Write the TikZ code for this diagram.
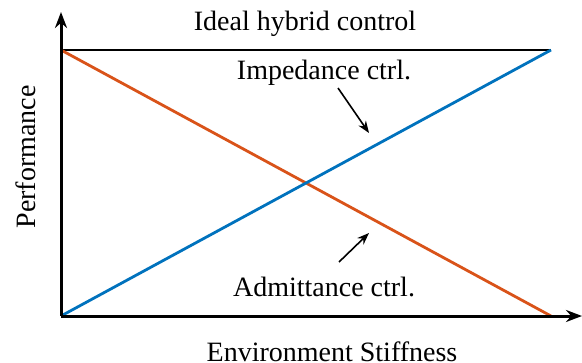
\documentclass[tikz,border=0pt]{standalone}
\usepackage{fontspec}
\setmainfont{Liberation Serif}
\usetikzlibrary{arrows.meta}
\definecolor{ctrlorange}{RGB}{217,83,25}
\definecolor{ctrlblue}{RGB}{0,114,189}
\begin{document}
\begin{tikzpicture}[x=0.5pt, y=-0.5pt, axis/.style = {line width=1.5pt, -{Stealth[length=8pt,width=6pt]}}, curve/.style = {line width=1.4pt}, note/.style = {line width=0.8pt, -{Stealth[length=6pt,width=4.5pt]}}, lbl/.style = {font=\fontsize{14}{16}\selectfont, inner sep=0pt}]
        \useasboundingbox (0,0) rectangle (582,363);
        \coordinate (o) at (61,316);
        \coordinate (ytop) at (61,12);
        \coordinate (xend) at (582,316);
        \coordinate (tl) at (61,50);
        \coordinate (tr) at (551,50);
        \coordinate (br) at (551,316);
        \draw[line width=1pt] (tl) -- (tr);
        \draw[curve, ctrlorange] (tl) -- (br);
        \draw[curve, ctrlblue] (o) -- (tr);
        \draw[axis] (o) -- (ytop);
        \draw[axis] (o) -- (xend);
        \node[lbl] (ideal) at (305,24) {Ideal hybrid control};
        \node[lbl] (imp) at (324,73) {Impedance ctrl.};
        \node[lbl] (adm) at (324,287) {Admittance ctrl.};
        \node[lbl, rotate=90] (perf) at (26,157) {Performance};
        \node[lbl] (env) at (332,352) {Environment Stiffness};
        \coordinate (impend) at (369,133);
        \coordinate (admend) at (369,233);
        \draw[note] (338,88) -- (impend);
        \draw[note] (339,262) -- (admend);
    \end{tikzpicture}
\end{document}
